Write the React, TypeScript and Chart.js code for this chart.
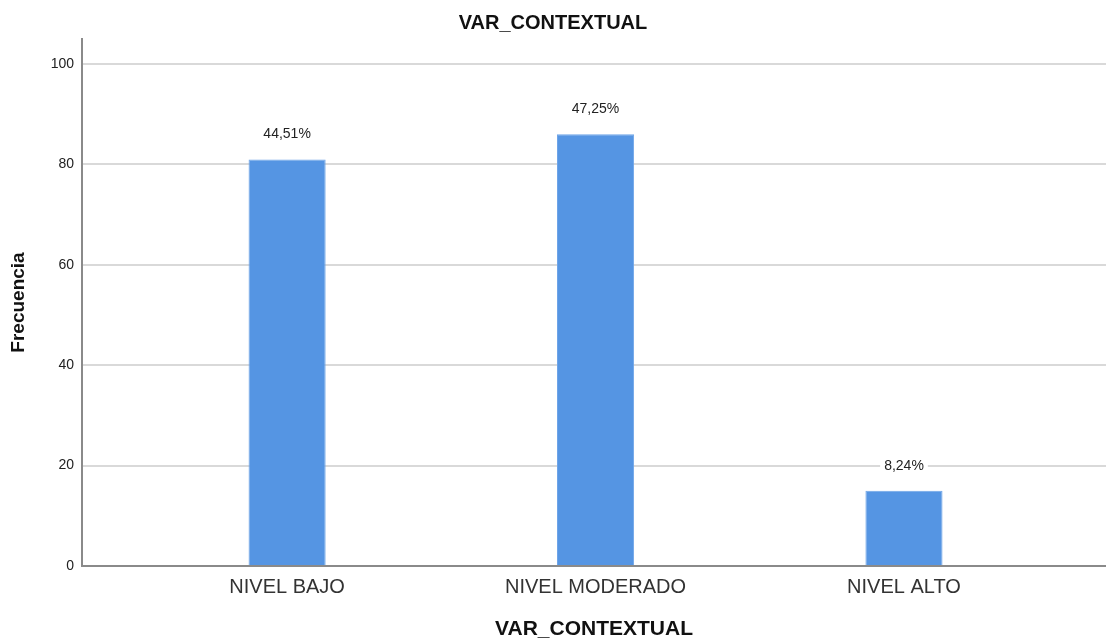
import React, { useEffect, useRef } from "react";
import { Chart, registerables } from "chart.js";

Chart.register(...registerables);

const categories = ["NIVEL BAJO", "NIVEL MODERADO", "NIVEL ALTO"];
const frequencies = [81, 86, 15];
const percentLabels = ["44,51%", "47,25%", "8,24%"];
const yTicks = [0, 20, 40, 60, 80, 100];

const FONT = "'Liberation Sans', Arial, Helvetica, sans-serif";

const barLabelPlugin = {
  id: "barLabels",
  afterDatasetsDraw(chart: any) {
    const ctx = chart.ctx;
    const meta = chart.getDatasetMeta(0);
    ctx.save();
    ctx.font = `14px ${FONT}`;
    ctx.textAlign = "center";
    ctx.textBaseline = "middle";
    meta.data.forEach((bar: any, i: number) => {
      const t = percentLabels[i];
      const w = ctx.measureText(t).width;
      const y = bar.y - 25;
      ctx.fillStyle = "#ffffff";
      ctx.fillRect(bar.x - w / 2 - 4, y - 9, w + 8, 18);
      ctx.fillStyle = "#222222";
      ctx.fillText(t, bar.x, y);
    });
    ctx.restore();
  },
};

export default function App() {
  const ref = useRef<HTMLCanvasElement | null>(null);

  useEffect(() => {
    if (!ref.current) return;
    const chart = new Chart(ref.current, {
      type: "bar",
      data: {
        datasets: [
          {
            data: frequencies.map((v, i) => ({ x: i, y: v })),
            backgroundColor: "#5595e3",
            borderColor: "#6fa5e8",
            borderWidth: 1,
            categoryPercentage: 1,
            barPercentage: 0.25,
          },
        ],
      },
      options: {
        animation: false,
        responsive: true,
        maintainAspectRatio: false,
        layout: { padding: { left: 0, right: 0, top: 0, bottom: 0 } },
        plugins: {
          legend: { display: false },
          tooltip: { enabled: false },
          title: {
            display: true,
            text: "VAR_CONTEXTUAL",
            color: "#111111",
            font: { family: FONT, size: 20, weight: "bold", lineHeight: 1.2 },
            padding: { top: 11, bottom: 4 },
          },
        },
        scales: {
          x: {
            type: "linear",
            offset: false,
            bounds: "ticks",
            min: -0.665,
            max: 2.655,
            afterBuildTicks: (axis: any) => {
              axis.ticks = categories.map((_, i) => ({ value: i }));
            },
            afterFit: (axis: any) => {
              axis.height = 78;
            },
            ticks: {
              callback: (v: any) => categories[Math.round(Number(v))] ?? "",
              color: "#333333",
              font: { family: FONT, size: 20, lineHeight: 1.2 },
              padding: 9,
              maxRotation: 0,
              autoSkip: false,
            },
            grid: { display: false, drawTicks: false, offset: false },
            border: { display: true, color: "#8a8a8a", width: 2 },
            title: {
              display: true,
              text: "VAR_CONTEXTUAL",
              color: "#111111",
              font: { family: FONT, size: 21, weight: "bold", lineHeight: 1.2 },
              padding: { top: 0, bottom: 2 },
            },
          },
          y: {
            min: 0,
            max: 105,
            afterBuildTicks: (axis: any) => {
              axis.ticks = yTicks.map((v) => ({ value: v }));
            },
            afterFit: (axis: any) => {
              axis.width = 82;
            },
            ticks: {
              color: "#222222",
              font: { family: FONT, size: 14 },
              padding: 8,
            },
            grid: { color: "#d9d9d9", lineWidth: 2, drawTicks: false },
            border: { display: true, color: "#8a8a8a", width: 2 },
            title: {
              display: true,
              text: "Frecuencia",
              color: "#111111",
              font: { family: FONT, size: 19, weight: "bold", lineHeight: 1.2 },
              padding: { top: 7, bottom: 0 },
            },
          },
        },
      },
      plugins: [barLabelPlugin],
    } as any);
    return () => chart.destroy();
  }, []);

  return (
    <div
      style={{
        position: "absolute",
        left: 0,
        top: 0,
        width: 1106,
        height: 644,
        background: "#ffffff",
      }}
    >
      <canvas ref={ref} />
    </div>
  );
}
